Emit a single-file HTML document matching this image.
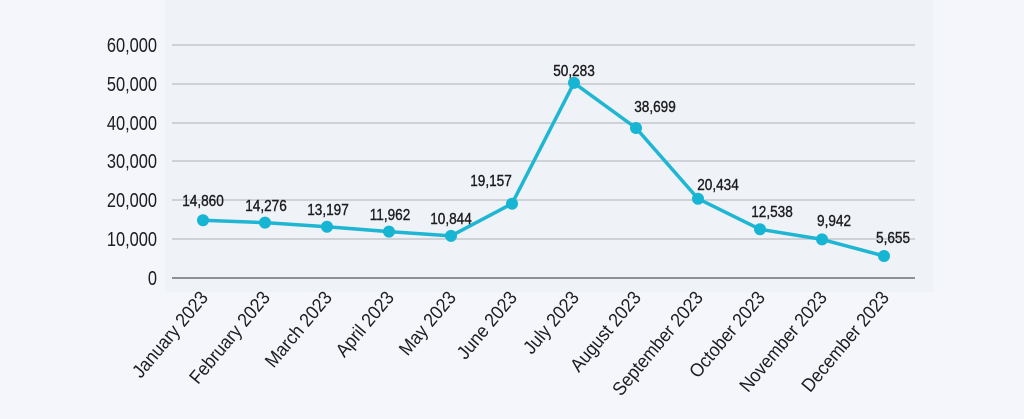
<!DOCTYPE html>
<html><head><meta charset="utf-8"><style>
html,body{margin:0;padding:0;background:#f5f6fb;}
svg{display:block}
text{font-family:"Liberation Sans",sans-serif;fill:#1d1d1f}
</style></head><body>
<svg width="1024" height="419" viewBox="0 0 1024 419" xmlns="http://www.w3.org/2000/svg">
<rect x="0" y="0" width="1024" height="419" fill="#f5f6fb"/>
<rect x="165" y="0" width="768" height="292" fill="#eff2f7"/>
<g stroke="#c4c6cb" stroke-width="1.5">
<line x1="172" y1="45" x2="915" y2="45"/>
<line x1="172" y1="84" x2="915" y2="84"/>
<line x1="172" y1="123" x2="915" y2="123"/>
<line x1="172" y1="161" x2="915" y2="161"/>
<line x1="172" y1="200" x2="915" y2="200"/>
<line x1="172" y1="239" x2="915" y2="239"/>
</g>
<line x1="172" y1="278" x2="915" y2="278" stroke="#8e9096" stroke-width="2"/>
<g font-size="20" text-anchor="end">
<text transform="translate(157,52) scale(0.82,1)">60,000</text>
<text transform="translate(157,91) scale(0.82,1)">50,000</text>
<text transform="translate(157,130) scale(0.82,1)">40,000</text>
<text transform="translate(157,168) scale(0.82,1)">30,000</text>
<text transform="translate(157,207) scale(0.82,1)">20,000</text>
<text transform="translate(157,246) scale(0.82,1)">10,000</text>
<text transform="translate(157,285) scale(0.82,1)">0</text>
</g>
<polyline fill="none" stroke="#1fb6d3" stroke-width="3.5" stroke-linejoin="round" points="203,220.3 265,222.6 327,226.8 389,231.6 451,235.9 512,203.7 574,82.9 636,128 698,198.7 760,229.3 822,239.4 884,256"/>
<g fill="#17b5d4">
<circle cx="203" cy="220.3" r="6"/><circle cx="265" cy="222.6" r="6"/><circle cx="327" cy="226.8" r="6"/><circle cx="389" cy="231.6" r="6"/><circle cx="451" cy="235.9" r="6"/><circle cx="512" cy="203.7" r="6"/><circle cx="574" cy="82.9" r="6"/><circle cx="636" cy="128" r="6"/><circle cx="698" cy="198.7" r="6"/><circle cx="760" cy="229.3" r="6"/><circle cx="822" cy="239.4" r="6"/><circle cx="884" cy="256" r="6"/>
</g>
<g font-size="16" text-anchor="middle" stroke="#1d1d1f" stroke-width="0.4">
<text transform="translate(203,206) scale(0.85,1)">14,860</text>
<text transform="translate(266,211) scale(0.85,1)">14,276</text>
<text transform="translate(328,215) scale(0.85,1)">13,197</text>
<text transform="translate(390,220) scale(0.85,1)">11,962</text>
<text transform="translate(451,224) scale(0.85,1)">10,844</text>
<text transform="translate(491,186) scale(0.85,1)">19,157</text>
<text transform="translate(574,76) scale(0.85,1)">50,283</text>
<text transform="translate(655,112) scale(0.85,1)">38,699</text>
<text transform="translate(718,190) scale(0.85,1)">20,434</text>
<text transform="translate(772,217) scale(0.85,1)">12,538</text>
<text transform="translate(834,226) scale(0.85,1)">9,942</text>
<text transform="translate(893,243) scale(0.85,1)">5,655</text>
</g>
<g font-size="19" text-anchor="end">
<text transform="translate(209,298) rotate(-50) scale(0.92,1)">January 2023</text>
<text transform="translate(271,298) rotate(-50) scale(0.92,1)">February 2023</text>
<text transform="translate(333,298) rotate(-50) scale(0.92,1)">March 2023</text>
<text transform="translate(395,298) rotate(-50) scale(0.92,1)">April 2023</text>
<text transform="translate(457,298) rotate(-50) scale(0.92,1)">May 2023</text>
<text transform="translate(518,298) rotate(-50) scale(0.92,1)">June 2023</text>
<text transform="translate(580,298) rotate(-50) scale(0.92,1)">July 2023</text>
<text transform="translate(642,298) rotate(-50) scale(0.92,1)">August 2023</text>
<text transform="translate(704,298) rotate(-50) scale(0.92,1)">September 2023</text>
<text transform="translate(766,298) rotate(-50) scale(0.92,1)">October 2023</text>
<text transform="translate(828,298) rotate(-50) scale(0.92,1)">November 2023</text>
<text transform="translate(890,298) rotate(-50) scale(0.92,1)">December 2023</text>
</g>
</svg>
</body></html>
